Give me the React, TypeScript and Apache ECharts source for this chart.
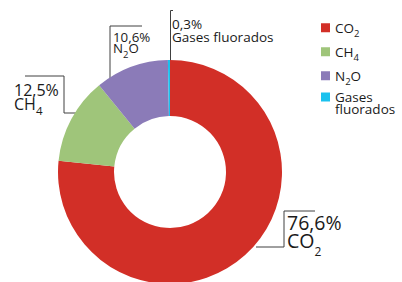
import React, { useEffect, useRef } from 'react';
import * as echarts from 'echarts';

const categories = ['CO2', 'CH4', 'N2O', 'Gases fluorados'];
const shares = [76.6, 12.5, 10.6, 0.3];
const colors = ['#d22f27', '#9fc57a', '#8b7bb8', '#1ac1ee'];

// label placement per slice (annotation layout)
const labelPlacement = [
  { x: 287, y: 213, style: 'L', line: [[256, 247], [284, 247], [284, 211], [315, 211]] },
  { x: 14, y: 83.5, style: 'M', line: [[77, 113], [64, 113], [64, 76], [25, 76]] },
  { x: 113, y: 31, style: 'N', line: [[110, 80], [110, 26], [142, 26]] },
  { x: 172, y: 17, style: 'S', line: [[170.5, 61], [170.5, 10.5], [173, 10.5]] },
];

const FONT = '"Open Sans"';

function richName(name: string, a: string, s: string) {
  return name
    .split(/(\d+)/)
    .filter((p) => p.length)
    .map((p) => (/^\d+$/.test(p) ? `{${s}|${p}}` : `{${a}|${p}}`))
    .join('');
}

function fmtPct(v: number) {
  return v.toFixed(1).replace('.', ',') + '%';
}

const TXT = '#1a1a1a';

export default function App() {
  const ref = useRef<HTMLDivElement>(null);
  useEffect(() => {
    if (!ref.current) return;
    const chart = echarts.init(ref.current, undefined, { renderer: 'svg' });
    const option: any = {
      animation: false,
      backgroundColor: '#ffffff',
      color: colors,
      legend: {
        orient: 'vertical',
        left: 321,
        top: 17.5,
        padding: 0,
        itemWidth: 9,
        itemHeight: 9,
        itemGap: 3.5,
        itemTextGap: 9,
        icon: 'rect',
        selectedMode: false,
        data: categories.map((c) => ({ name: c })),
        formatter: (name: string) =>
          name.indexOf(' ') >= 0
            ? `{g|${name.split(' ')[0]}}\n{h|${name.split(' ')[1]}}`
            : richName(name, 'm', 's'),
        textStyle: {
          fontFamily: FONT,
          color: TXT,
          rich: {
            m: { fontFamily: FONT, fontSize: 13.5, lineHeight: 16, color: TXT },
            s: { fontFamily: FONT, fontSize: 9.5, lineHeight: 1, padding: [10.5, 0, 0, 0], color: TXT },
            g: { fontFamily: FONT, fontSize: 13.5, lineHeight: 16, color: TXT },
            h: { fontFamily: FONT, fontSize: 13.5, lineHeight: 1, padding: [7.5, 0, 0, 0], color: TXT },
          },
        },
      },
      series: [
        {
          type: 'pie',
          center: [170, 172],
          radius: [56, 112],
          startAngle: 90,
          clockwise: true,
          avoidLabelOverlap: false,
          itemStyle: { borderWidth: 0 },
          emphasis: { disabled: true },
          data: categories.map((c, i) => ({ name: c, value: shares[i] })),
          label: {
            show: true,
            position: 'outside',
            fontFamily: FONT,
            color: TXT,
            formatter: (p: any) => {
              const st = labelPlacement[p.dataIndex].style;
              const pct = fmtPct(p.value);
              if (st === 'S') return `{S|${pct}}\n{S|${p.name}}`;
              return `{${st}|${pct}}\n` + richName(p.name, st, st + 's');
            },
            rich: {
              L: { fontFamily: FONT, fontSize: 19.5, lineHeight: 18.3, color: TXT },
              Ls: { fontFamily: FONT, fontSize: 12, lineHeight: 1, padding: [22, 0, 0, 0], color: TXT },
              M: { fontFamily: FONT, fontSize: 16, lineHeight: 13.6, color: TXT },
              Ms: { fontFamily: FONT, fontSize: 11.5, lineHeight: 1, padding: [14, 0, 0, 0], color: TXT },
              N: { fontFamily: FONT, fontSize: 13.3, lineHeight: 11.5, color: TXT },
              Ns: { fontFamily: FONT, fontSize: 9.5, lineHeight: 1, padding: [12.4, 0, 0, 0], color: TXT },
              S: { fontFamily: FONT, fontSize: 13.5, lineHeight: 13.3, color: TXT },
            },
          },
          labelLine: {
            show: true,
            smooth: false,
            lineStyle: { color: '#404040', width: 1 },
          },
          labelLayout: (params: any) => {
            const pl = labelPlacement[params.dataIndex];
            return {
              x: pl.x,
              y: pl.y,
              align: 'left',
              verticalAlign: 'top',
              labelLinePoints: pl.line,
            };
          },
        },
      ],
    };
    chart.setOption(option);
    return () => chart.dispose();
  }, []);
  return (
    <div
      ref={ref}
      style={{ position: 'fixed', left: 0, top: 0, width: 402, height: 282 }}
    />
  );
}
